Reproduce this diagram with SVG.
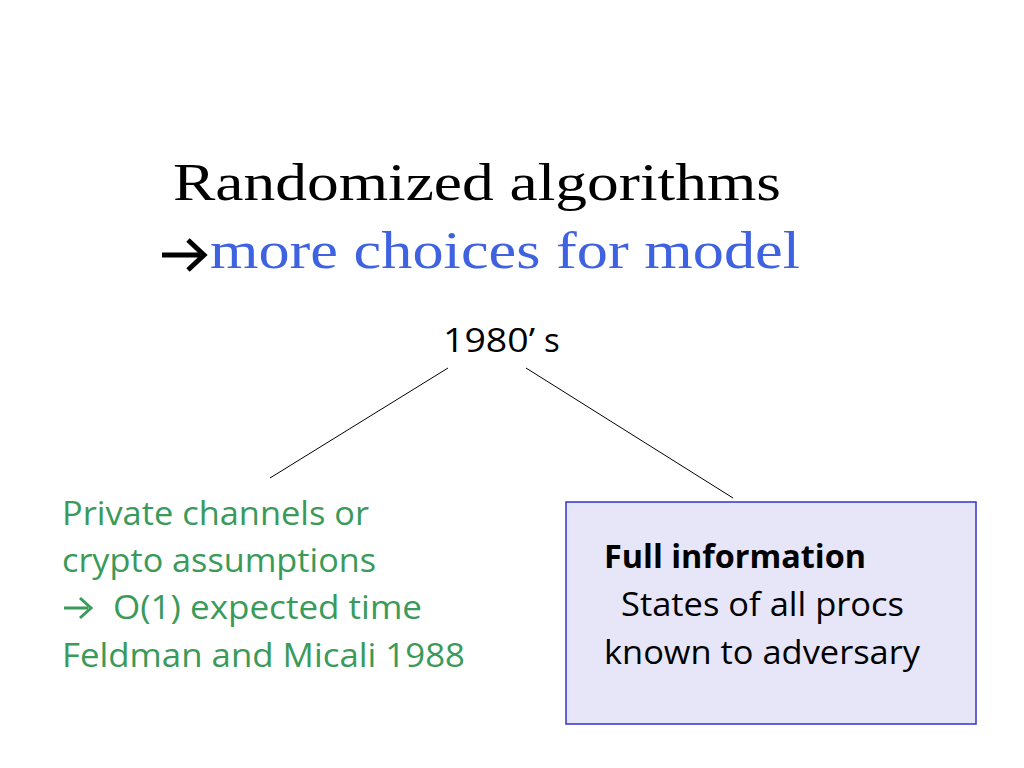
<svg xmlns="http://www.w3.org/2000/svg" width="1024" height="768" viewBox="0 0 1024 768">
<style>
.t{font-family:"Liberation Serif",serif;font-size:52px}
.b{font-family:"Open Sans","Liberation Sans",sans-serif;font-size:33px}
.g{fill:#3a9a5a}
</style>
<rect width="1024" height="768" fill="#fff"/>
<text class="t" x="173" y="200" textLength="608" lengthAdjust="spacingAndGlyphs">Randomized algorithms</text>
<path d="M162 255 H200 M188 240 L204 255 L188 270" fill="none" stroke="#000" stroke-width="5"/>
<text class="t" x="210" y="268" fill="#3f63e0" textLength="590" lengthAdjust="spacingAndGlyphs">more choices for model</text>
<g id="n1980"><text class="b" x="443" y="352" textLength="92" lengthAdjust="spacingAndGlyphs">1980’</text><text class="b" x="544" y="352" font-size="17">s</text></g>
<g id="connectors" stroke="#000" stroke-width="1">
<line x1="448" y1="368" x2="270" y2="478"/>
<line x1="526" y1="368" x2="733" y2="498"/>
</g>
<g id="left" class="b g">
<text x="62" y="525" textLength="307" lengthAdjust="spacingAndGlyphs">Private channels or</text>
<text x="62" y="572" textLength="314" lengthAdjust="spacingAndGlyphs">crypto assumptions</text>
<path d="M64 608 H88 M80 598 L91 608 L80 618" fill="none" stroke="#3a9a5a" stroke-width="3"/>
<text x="113" y="619" textLength="309" lengthAdjust="spacingAndGlyphs">O(1) expected time</text>
<text x="62" y="667" textLength="403" lengthAdjust="spacingAndGlyphs">Feldman and Micali 1988</text>
</g>
<g id="right">
<rect x="566" y="502" width="410" height="222" fill="#e6e6f8" stroke="#3333cc" stroke-width="1.5"/>
<text class="b" x="604" y="568" font-weight="bold" textLength="262" lengthAdjust="spacingAndGlyphs">Full information</text>
<text class="b" x="621" y="616" textLength="283" lengthAdjust="spacingAndGlyphs">States of all procs</text>
<text class="b" x="604" y="664" textLength="316" lengthAdjust="spacingAndGlyphs">known to adversary</text>
</g>
</svg>
